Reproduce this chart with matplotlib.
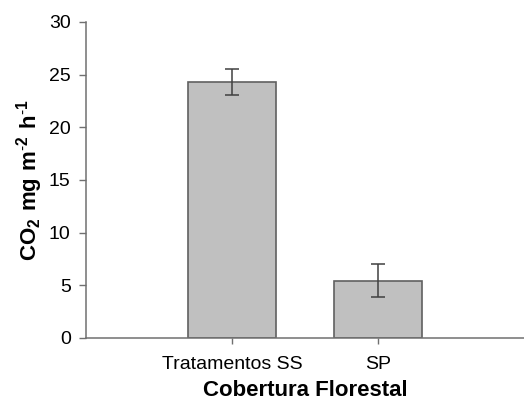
import matplotlib
matplotlib.use('Agg')
import matplotlib.pyplot as plt

# data
categories = ['Tratamentos SS', 'SP']
co2_means = [24.3, 5.45]
co2_err = [1.2, 1.55]
y_ticks = [0, 5, 10, 15, 20, 25, 30]

plt.rcParams['font.family'] = ['Liberation Sans', 'DejaVu Sans']
plt.rcParams['mathtext.fontset'] = 'custom'
plt.rcParams['mathtext.rm'] = 'Liberation Sans'
plt.rcParams['mathtext.bf'] = 'Liberation Sans:bold'

fig = plt.figure(figsize=(5.24, 4.01), dpi=100)
ax = fig.add_axes([86 / 524, 63 / 401, 438 / 524, 316 / 401])

x = range(len(categories))
ax.bar(x, co2_means, width=0.6, color='#c0c0c0', edgecolor='#606060', linewidth=1.2,
       yerr=co2_err, error_kw=dict(ecolor='#404040', elinewidth=1.1, capsize=5, capthick=1.1))

ax.set_xlim(-1.0, 2.0)
ax.set_ylim(0, 30)
ax.set_yticks(y_ticks)
ax.set_xticks(list(x))
ax.set_xticklabels(categories)

for s in ['top', 'right']:
    ax.spines[s].set_visible(False)
for s in ['left', 'bottom']:
    ax.spines[s].set_color('#707070')
    ax.spines[s].set_linewidth(1.1)

ax.tick_params(axis='both', colors='#707070', labelcolor='black', labelsize=14,
               direction='out', length=5, width=1.0)
ax.tick_params(axis='y', pad=6)
ax.tick_params(axis='x', length=4, pad=9)

ax.set_xlabel('Cobertura Florestal', fontsize=16, fontweight='bold', labelpad=5)
ax.set_ylabel(r'$\mathbf{CO_2\ mg\ m^{\text{-}2}\ h^{\text{-}1}}$', fontsize=16, labelpad=3)

fig.savefig('out.png', dpi=100)
